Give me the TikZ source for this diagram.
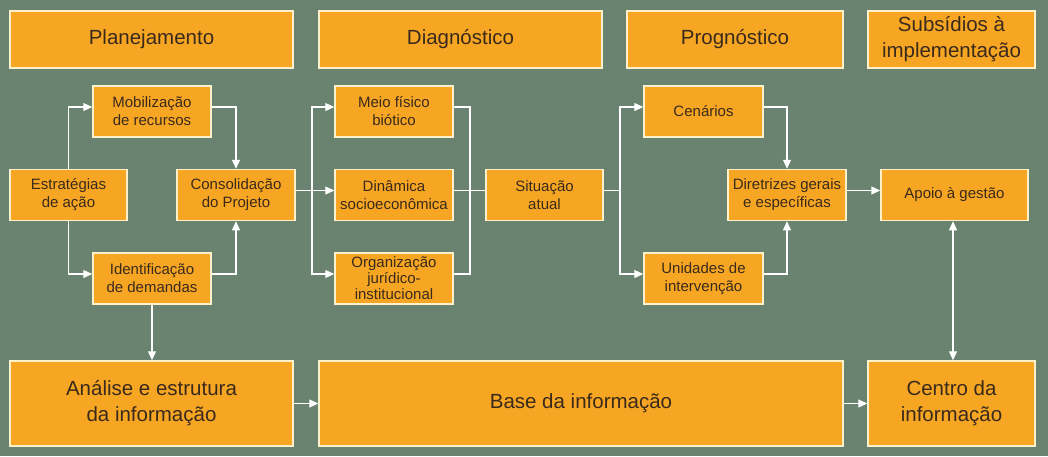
\documentclass[tikz,border=0pt]{standalone}
\usepackage{fontspec}
\setmainfont{Liberation Sans}
\usetikzlibrary{arrows.meta,calc}
\definecolor{bg}{HTML}{6A8370}
\definecolor{boxfill}{HTML}{F6A623}
\definecolor{boxline}{HTML}{FFF1CC}
\definecolor{txt}{HTML}{3A2A1C}
\tikzset{
  box/.style={draw=boxline,fill=boxfill,line width=1.5pt,text=txt,align=center,inner sep=0pt,minimum width=#1},
  small/.style={box=118pt,minimum height=51pt,font=\fontsize{15}{18}\selectfont},
  big/.style={box=#1,font=\fontsize{20.5}{26}\selectfont},
  conn/.style={draw=white,line width=1.2pt},
  arr/.style={conn,-{Triangle[length=9pt,width=8pt]}},
  darr/.style={conn,{Triangle[length=9pt,width=8pt]}-{Triangle[length=9pt,width=8pt]}},
  ys/.style={yshift=4.5pt}
}
\begin{document}
\begin{tikzpicture}[x=1pt,y=-1pt]
\useasboundingbox (0,0) rectangle (1048,456);
\fill[bg] (0,0) rectangle (1048,456);
% headers
\node[big=283pt,minimum height=57pt] (plan) at (151.5,39.5) {Planejamento};
\node[big=283pt,minimum height=57pt] (diag) at (460.5,39.5) {Diagnóstico};
\node[big=216pt,minimum height=57pt] (prog) at (735,39.5) {Prognóstico};
\node[big=167pt,minimum height=57pt] (subs) at (951.5,39.5) {Subsídios à\\implementação};
% middle
\node[small] (mob) at (152,111.5) {Mobilização\\de recursos};
\node[small,minimum width=117pt] (estr) at (68.5,195) {Estratégias\\de ação};
\node[small] (cons) at (236,195) {Consolidação\\do Projeto};
\node[small] (iden) at (152,278.5) {Identificação\\de demandas};
\node[small] (meio) at (394,111.5) {Meio físico\\biótico};
\node[small] (dina) at (394,195) {Dinâmica\\socioeconômica};
\node[small,font=\fontsize{15}{16}\selectfont] (orga) at (394,278.5) {Organização\\jurídico-\\institucional};
\node[small,minimum width=117pt] (situ) at (544.5,195) {Situação\\atual};
\node[small,minimum width=119pt] (cena) at (703.5,111.5) {Cenários};
\node[small,minimum width=119pt] (unid) at (703.5,278.5) {Unidades de\\intervenção};
\node[small] (dire) at (787,195) {Diretrizes gerais\\e específicas};
\node[small,minimum width=147pt] (apoi) at (954.5,195) {Apoio à gestão};
% bottom
\node[big=283pt,minimum height=85pt] (anal) at (151.5,403.5) {Análise e estrutura\\da informação};
\node[big=524pt,minimum height=85pt] (base) at (581,403.5) {Base da informação};
\node[big=167pt,minimum height=85pt] (cent) at (951.5,403.5) {Centro da\\informação};
% junctions
\coordinate (j1) at (312,190.5);
\coordinate (j2) at (470,190.5);
\coordinate (j3) at (620,190.5);
% connectors
\draw[arr] (estr.north) |- ([ys]mob.west);
\draw[arr] (estr.south) |- ([ys]iden.west);
\draw[arr] ([ys]mob.east) -| (cons.north);
\draw[arr] ([ys]iden.east) -| (cons.south);
\draw[arr] ([ys]cons.east) -- ([ys]dina.west);
\draw[arr] (j1) |- ([ys]meio.west);
\draw[arr] (j1) |- ([ys]orga.west);
\draw[conn] ([ys]meio.east) -| (j2) |- ([ys]orga.east);
\draw[conn] ([ys]dina.east) -- ([ys]situ.west);
\draw[conn] ([ys]situ.east) -- (j3);
\draw[arr] (j3) |- ([ys]cena.west);
\draw[arr] (j3) |- ([ys]unid.west);
\draw[arr] ([ys]cena.east) -| (dire.north);
\draw[arr] ([ys]unid.east) -| (dire.south);
\draw[arr] ([ys]dire.east) -- ([ys]apoi.west);
\draw[arr] (iden.south) -- (iden.south |- anal.north);
\draw[arr] (anal.east) -- (base.west);
\draw[arr] (base.east) -- (cent.west);
\draw[darr] ([xshift=-1.5pt]apoi.south) -- ([xshift=-1.5pt]apoi.south |- cent.north);
\end{tikzpicture}
\end{document}
